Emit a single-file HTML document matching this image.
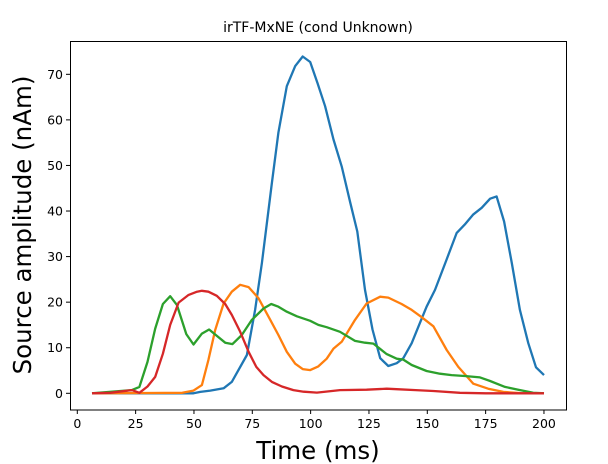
<!DOCTYPE html>
<html><head><meta charset="utf-8"><style>
body{margin:0;background:#fff;}
svg{display:block;font-family:"DejaVu Sans","Liberation Sans",sans-serif;}
</style></head><body>
<svg id="chart" width="608" height="464" viewBox="0 0 608 464">
<rect x="0" y="0" width="608" height="464" fill="#fff"/>
<text x="318" y="32" font-size="14" text-anchor="middle" fill="#000">irTF-MxNE (cond Unknown)</text>
<g id="xticks"></g>
<g id="yticks"></g>
<g id="series"></g>
<rect x="70.5" y="41.5" width="496" height="368.5" fill="none" stroke="#000" stroke-width="1"/>
<text x="318" y="459" font-size="24.5" text-anchor="middle" fill="#000">Time (ms)</text>
<text transform="translate(31,225) rotate(-90)" font-size="24.5" text-anchor="middle" fill="#000">Source amplitude (nAm)</text>
</svg>
<script>
const xTicks=[0,25,50,75,100,125,150,175,200];
const yTicks=[0,10,20,30,40,50,60,70];
const blueT=[6.3,49.8,52.7,57,62.7,66.2,72.7,76.2,79.1,83.4,86.2,89.8,93.4,96.6,99.8,103,106.2,109.8,113.3,117,120,123.3,126.5,129.8,133.3,136.9,139.7,143.3,146.5,149.7,153.3,158,162.6,166,169.6,173.3,176.9,179.7,182.9,186.2,189.7,193.3,196.6,200];
const blueV=[0,0,0.3,0.6,1.1,2.5,8.4,18.3,28.6,46.2,57.2,67.4,71.8,73.9,72.7,68,63.0,55.7,49.8,41.8,35.5,22.7,14,7.7,6,6.6,7.7,11,15,19,22.7,29,35.2,37,39.2,40.7,42.7,43.2,37.7,28.6,18.3,11,5.7,4.0];
const orangeT=[6.3,45,49.8,53.4,56.2,59.1,62.7,66.2,69.8,73.4,77.6,82.7,86.2,89.8,93.4,96.6,99.8,103.3,106.9,109.8,113.3,119,124,129.8,133.3,139,143.3,147.6,152.6,158.3,163.3,169.7,176.1,182.6,190,200];
const orangeV=[0,0.1,0.6,1.8,7.3,13.9,19.7,22.3,23.8,23.3,20.9,16.1,12.8,9.1,6.5,5.3,5.1,5.9,7.6,9.8,11.3,16.1,19.7,21.2,21.0,19.6,18.3,16.7,14.7,9.5,5.8,2.1,1.0,0.3,0.05,0];
const greenT=[6.3,23.4,26.6,30.1,33.4,36.7,39.8,42.7,46.7,49.8,53.4,56.5,63.4,66.5,70.5,74.8,79.8,83.1,86.2,89.8,94.1,99.8,103.3,106.9,112.6,119,123.3,126.9,132.6,136.9,139.7,143.3,149.7,155.4,160.4,166,172.6,176.9,183.3,189,195.4,200];
const greenV=[0,0.7,1.4,6.9,14.2,19.6,21.3,19.4,13,10.7,13.1,14,11.1,10.8,12.8,16.1,18.6,19.6,19,17.9,16.9,15.9,15,14.5,13.5,11.5,11.1,10.9,8.6,7.6,7.4,6.2,4.9,4.3,4.0,3.8,3.5,2.7,1.4,0.8,0.1,0];
const redT=[6.3,14.1,23.4,26.6,30.1,33.4,36.7,39.8,43.4,47.7,51.3,53.4,56.2,59.8,63.4,66.2,69.8,73.4,76.7,79.8,83.4,87.7,92.6,97,102.7,112.6,124,132.6,136.9,145,152.6,164,175,200];
const redV=[0,0.1,0.7,0.1,1.5,3.6,8.7,15,19.9,21.6,22.3,22.5,22.3,21.4,19.6,17.2,13.5,9.1,5.8,4.0,2.5,1.5,0.7,0.35,0.15,0.7,0.8,1.0,0.9,0.7,0.5,0.1,0,0];
const NS="http://www.w3.org/2000/svg";
function xs(t){return 77.3+t*2.3333;}
function ys(v){return 393.3-v*4.557;}
function mk(tag,attrs,parent){const e=document.createElementNS(NS,tag);for(const k in attrs)e.setAttribute(k,attrs[k]);parent.appendChild(e);return e;}
const gx=document.getElementById('xticks'),gy=document.getElementById('yticks'),gs=document.getElementById('series');
xTicks.forEach(t=>{
  const l=mk('line',{x1:xs(t),x2:xs(t),y1:410,y2:414,stroke:'#000','stroke-width':1},gx);
  
  
  const tx=mk('text',{x:xs(t),y:428,'font-size':12.5,'text-anchor':'middle',fill:'#000'},gx);
  tx.textContent=t;
  
  
});
yTicks.forEach(v=>{
  const l=mk('line',{x1:66,x2:70.5,y1:ys(v),y2:ys(v),stroke:'#000','stroke-width':1},gy);
  
  
  const tx=mk('text',{x:63,y:ys(v)+4.5,'font-size':12.5,'text-anchor':'end',fill:'#000'},gy);
  tx.textContent=v;
  
  
});
function line(T,V,color,name){
  const d=T.map((t,i)=>(i?'L':'M')+xs(t).toFixed(1)+','+ys(V[i]).toFixed(1)).join(' ');
  const p=mk('path',{d:d,fill:'none',stroke:color,'stroke-width':2.3,'stroke-linejoin':'round'},gs);
  
  
}
line(blueT,blueV,'#1f77b4','series-blue');
line(orangeT,orangeV,'#ff7f0e','series-orange');
line(greenT,greenV,'#2ca02c','series-green');
line(redT,redV,'#d62728','series-red');
</script>
</body></html>
